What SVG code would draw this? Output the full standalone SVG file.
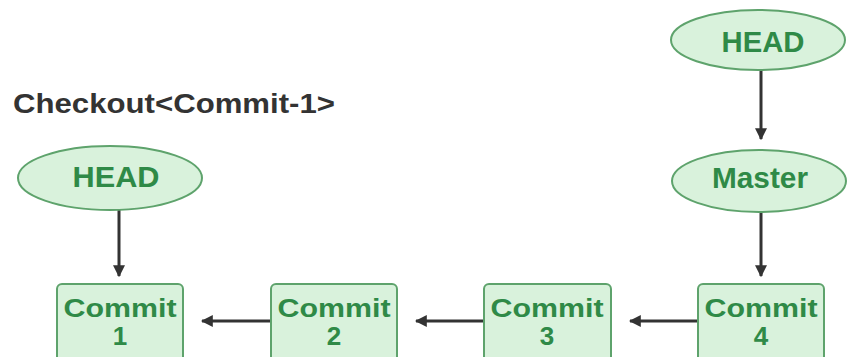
<svg xmlns="http://www.w3.org/2000/svg" width="848" height="357" viewBox="0 0 848 357">
  <style>
    .pointer { fill: #d9f2dc; stroke: #5ea36c; stroke-width: 2; }
    .commit { fill: #d9f2dc; stroke: #5ea36c; stroke-width: 2; }
    .label { font-family: "Liberation Sans", Arial, sans-serif; font-weight: bold; fill: #2f8a47; text-anchor: middle; }
    .title { font-family: "Liberation Sans", Arial, sans-serif; font-weight: bold; fill: #333333; font-size: 28px; }
    .edge { stroke: #333333; stroke-width: 3; fill: none; marker-end: url(#arrow); }
  </style>
  <defs>
    <marker id="arrow" viewBox="0 0 10 10" refX="9" refY="5" markerWidth="4" markerHeight="4" markerUnits="strokeWidth" orient="auto">
      <path d="M0,0 L10,5 L0,10 z" fill="#333333"/>
    </marker>
  </defs>

  <rect width="848" height="357" fill="#ffffff"/>

  <text class="title" x="13" y="113" textLength="322" lengthAdjust="spacingAndGlyphs">Checkout&lt;Commit-1&gt;</text>

  <g id="edges">
    <line class="edge" x1="119" y1="210" x2="119" y2="276"/>
    <line class="edge" x1="761" y1="70" x2="761" y2="139"/>
    <line class="edge" x1="761" y1="212" x2="761" y2="276"/>
    <line class="edge" x1="271" y1="321" x2="202" y2="321"/>
    <line class="edge" x1="484" y1="321" x2="416" y2="321"/>
    <line class="edge" x1="698" y1="321" x2="630" y2="321"/>
  </g>

  <g id="head-left">
    <ellipse class="pointer" cx="110" cy="178" rx="92" ry="32"/>
    <text class="label" x="116" y="187" font-size="30" textLength="87" lengthAdjust="spacingAndGlyphs">HEAD</text>
  </g>

  <g id="head-right">
    <ellipse class="pointer" cx="758" cy="40" rx="87" ry="30"/>
    <text class="label" x="763" y="52" font-size="29" textLength="83" lengthAdjust="spacingAndGlyphs">HEAD</text>
  </g>

  <g id="master">
    <ellipse class="pointer" cx="759" cy="181" rx="87" ry="31"/>
    <text class="label" x="760" y="188" font-size="29" textLength="96" lengthAdjust="spacingAndGlyphs">Master</text>
  </g>

  <g id="commit-1">
    <rect class="commit" x="57" y="284" width="126" height="80" rx="5"/>
    <text class="label" x="120" y="317" font-size="26" textLength="113" lengthAdjust="spacingAndGlyphs">Commit</text>
    <text class="label" x="120" y="345" font-size="26">1</text>
  </g>

  <g id="commit-2">
    <rect class="commit" x="271" y="284" width="126" height="80" rx="5"/>
    <text class="label" x="334" y="317" font-size="26" textLength="113" lengthAdjust="spacingAndGlyphs">Commit</text>
    <text class="label" x="334" y="345" font-size="26">2</text>
  </g>

  <g id="commit-3">
    <rect class="commit" x="484" y="284" width="127" height="80" rx="5"/>
    <text class="label" x="547" y="317" font-size="26" textLength="113" lengthAdjust="spacingAndGlyphs">Commit</text>
    <text class="label" x="547" y="345" font-size="26">3</text>
  </g>

  <g id="commit-4">
    <rect class="commit" x="698" y="284" width="126" height="80" rx="5"/>
    <text class="label" x="761" y="317" font-size="26" textLength="113" lengthAdjust="spacingAndGlyphs">Commit</text>
    <text class="label" x="761" y="345" font-size="26">4</text>
  </g>
</svg>
